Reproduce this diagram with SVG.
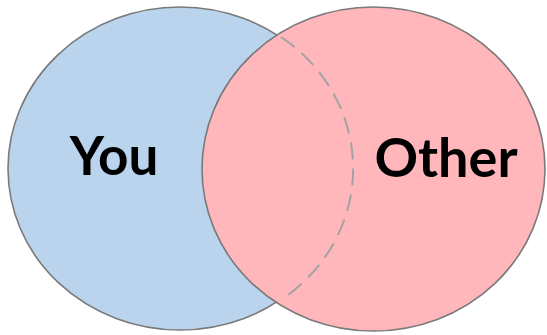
<svg xmlns="http://www.w3.org/2000/svg" width="547" height="335" viewBox="0 0 547 335">
<style>
.set{stroke:#7a7a7a;stroke-width:1.6}
.lbl{font-family:Lato,"Open Sans","Liberation Sans",sans-serif;font-weight:700;fill:#000}
.dash{fill:none;stroke:#a3a3a3;stroke-width:2;stroke-dasharray:17 9}
</style>
<rect width="547" height="335" fill="#ffffff"/>
<g id="you">
<ellipse class="set" cx="180" cy="168.5" rx="172" ry="161.5" fill="#b9d4ec"/>
<text class="lbl" x="114" y="175" font-size="53" text-anchor="middle">You</text>
</g>
<g id="other">
<ellipse class="set" cx="373.5" cy="169" rx="171.5" ry="162" fill="#ffb7bb"/>
<text class="lbl" x="446" y="177" font-size="54" text-anchor="middle">Other</text>
</g>
<g id="connectors">
<path class="dash" d="M281,37 A172,161.5 0 0 1 281,300"/>
</g>
</svg>
